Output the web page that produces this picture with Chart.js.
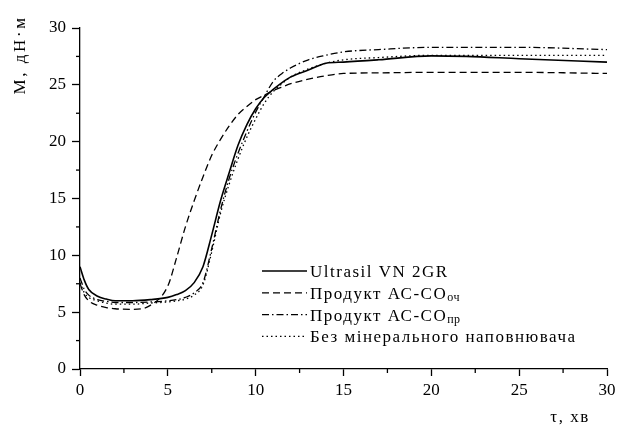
<!DOCTYPE html>
<html>
<head>
<meta charset="utf-8">
<script src="https://cdn.jsdelivr.net/npm/chart.js@4"></script>
<style>
html,body{margin:0;padding:0;background:#fff;}
#wrap{width:617px;height:426px;position:relative;}
</style>
</head>
<body>
<div id="wrap"><canvas id="c" width="617" height="426"></canvas></div>
<script>
const times = [0,0.25,0.5,1,1.5,2,3,4,5,5.5,6,6.5,7,7.5,8,8.5,9,9.5,10,10.5,11,11.5,12,13,14,15,17,20,22,25,30];
const ultrasil = [9.0,7.8,7.0,6.4,6.15,6.0,6.0,6.1,6.3,6.55,6.9,7.6,9.0,11.8,14.8,17.3,19.7,21.5,22.9,23.9,24.6,25.2,25.7,26.3,26.9,27.0,27.2,27.55,27.5,27.3,27.0];
const productOch = [7.5,6.5,6.0,5.6,5.4,5.3,5.25,5.6,7.3,9.8,12.5,14.8,16.9,18.8,20.2,21.4,22.4,23.1,23.7,24.1,24.5,24.8,25.1,25.5,25.8,26.0,26.05,26.1,26.1,26.1,26.0];
const productPr = [8.0,7.0,6.5,6.1,5.95,5.85,5.85,5.9,6.0,6.1,6.3,6.7,7.6,10.6,14.0,16.8,19.0,20.9,22.6,24.0,25.3,26.0,26.5,27.2,27.6,27.9,28.1,28.3,28.3,28.3,28.1];
const noFiller = [7.6,6.7,6.3,6.0,5.8,5.7,5.7,5.8,5.9,6.0,6.15,6.5,7.4,10.3,13.7,16.3,18.5,20.4,22.0,23.4,24.4,25.1,25.7,26.4,26.9,27.2,27.4,27.6,27.6,27.6,27.6];
const xTicks = [0,5,10,15,20,25,30];
const yTicks = [0,5,10,15,20,25,30];
const legendMain = ['Ultrasil VN 2GR','Продукт АС-СО','Продукт АС-СО','Без мінерального наповнювача'];
const legendSub = ['','оч','пр',''];
const xTitle = 'τ, хв';
const yTitle = 'М, дН·м';

const FONT = '"Liberation Serif","Times New Roman",serif';
const dashes = [[],[7,4],[7,3,1.5,3],[1.5,3]];
const widths = [1.6,1.3,1.3,1.3];
const series = [ultrasil, productOch, productPr, noFiller];

const datasets = series.map((arr,i)=>({
  label: legendMain[i]+legendSub[i],
  data: times.map((t,k)=>({x:t,y:arr[k]})),
  borderColor:'#000',
  borderWidth: widths[i],
  borderDash: dashes[i],
  pointRadius:0,
  fill:false,
  cubicInterpolationMode:'monotone'
}));

const decor = {
  id:'decor',
  afterDraw(chart){
    const ctx = chart.ctx;
    const xs = chart.scales.x, ys = chart.scales.y;
    ctx.save();
    ctx.strokeStyle='#000';
    ctx.lineWidth=1.3;
    ctx.setLineDash([]);
    // minor ticks
    for(let v=2.5; v<30; v+=5){
      const px = xs.getPixelForValue(v);
      ctx.beginPath(); ctx.moveTo(px, ys.bottom); ctx.lineTo(px, ys.bottom+4); ctx.stroke();
      const py = ys.getPixelForValue(v);
      ctx.beginPath(); ctx.moveTo(xs.left, py); ctx.lineTo(xs.left-4, py); ctx.stroke();
    }
    // axis titles
    ctx.fillStyle='#000';
    ctx.font='17px '+FONT;
    ctx.letterSpacing='1.5px';
    ctx.textAlign='center'; ctx.textBaseline='middle';
    ctx.fillText(xTitle, 570, 418);
    ctx.save();
    ctx.letterSpacing='2.6px';
    ctx.translate(21, 55);
    ctx.rotate(-Math.PI/2);
    ctx.fillText(yTitle, 0, 0);
    ctx.restore();
    // legend
    const x0 = 262, x1 = 307, tx = 310, y0 = 271, dy = 21.8;
    for(let i=0;i<4;i++){
      const y = y0 + i*dy;
      ctx.lineWidth = widths[i];
      ctx.setLineDash(dashes[i]);
      ctx.beginPath(); ctx.moveTo(x0,y); ctx.lineTo(x1,y); ctx.stroke();
      ctx.setLineDash([]);
      ctx.textAlign='left'; ctx.textBaseline='alphabetic';
      ctx.font='17px '+FONT;
      ctx.letterSpacing='1.5px';
      ctx.fillText(legendMain[i], tx, y+6);
      if(legendSub[i]){
        const w = ctx.measureText(legendMain[i]).width;
        ctx.font='12px '+FONT;
        ctx.letterSpacing='0.5px';
        ctx.fillText(legendSub[i], tx+w, y+8);
      }
    }
    ctx.restore();
  }
};

new Chart(document.getElementById('c'), {
  type:'line',
  data:{datasets},
  plugins:[decor],
  options:{
    responsive:false,
    animation:false,
    layout:{padding:{left:0,right:0,top:28,bottom:0}},
    plugins:{legend:{display:false},tooltip:{enabled:false}},
    scales:{
      x:{
        type:'linear', min:0, max:30,
        afterBuildTicks(s){ s.ticks = xTicks.map(v=>({value:v})); },
        afterFit(s){ s.height = 57; s.paddingRight = 10; s.paddingLeft = 0; },
        grid:{display:true, drawOnChartArea:false, drawTicks:true, tickLength:7, tickColor:'#000', tickWidth:1.3},
        border:{display:true,color:'#000',width:1.3},
        ticks:{color:'#000', font:{family:FONT,size:17}, padding:4, maxRotation:0, autoSkip:false}
      },
      y:{
        type:'linear', min:0, max:30,
        afterBuildTicks(s){ s.ticks = yTicks.map(v=>({value:v})); },
        afterFit(s){ s.width = 80; s.paddingTop = 0; s.paddingBottom = 0; },
        grid:{display:true, drawOnChartArea:false, drawTicks:true, tickLength:8, tickColor:'#000', tickWidth:1.3},
        border:{display:true,color:'#000',width:1.3},
        ticks:{color:'#000', font:{family:FONT,size:17}, padding:6, autoSkip:false}
      }
    }
  }
});
</script>
</body>
</html>
